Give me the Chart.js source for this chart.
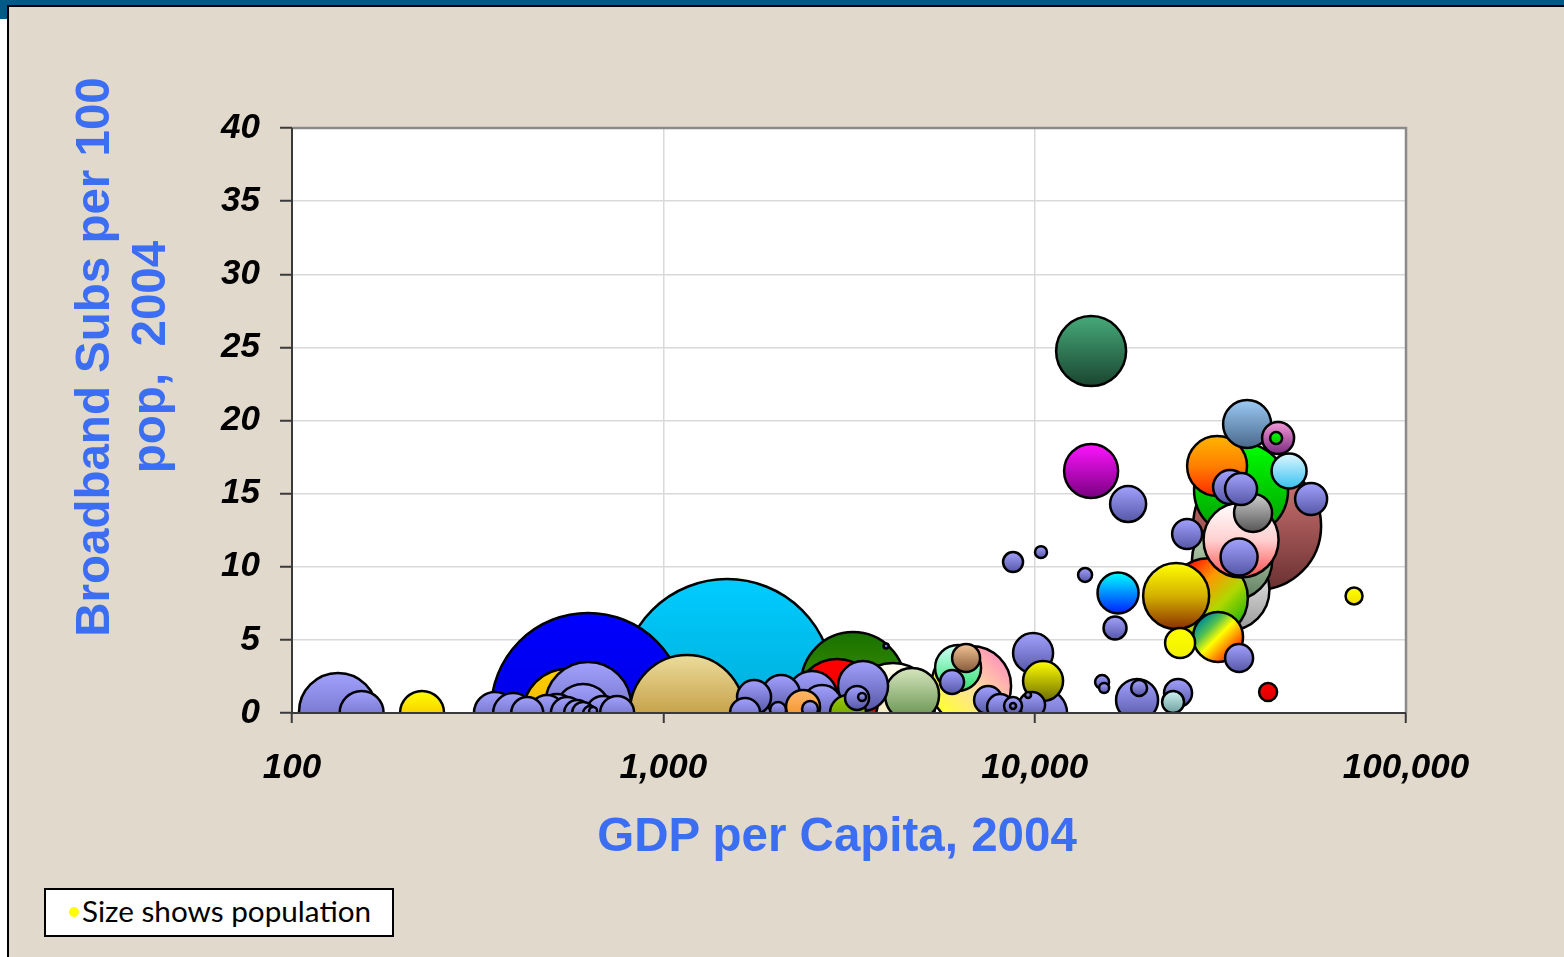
<!DOCTYPE html>
<html>
<head>
<meta charset="utf-8">
<title>Broadband vs GDP per capita, 2004</title>
<script src="https://cdn.jsdelivr.net/npm/chart.js@4.4.1/dist/chart.umd.min.js"></script>
<style>
html,body{margin:0;padding:0;background:#fff;}
#page{position:relative;width:1564px;height:957px;overflow:hidden;}
#topbar{position:absolute;left:0;top:0;width:1564px;height:6px;background:#005a88;}
#corner{position:absolute;left:0;top:0;width:8px;height:19px;background:#005a88;}
#panel{position:absolute;left:7px;top:5px;width:1557px;height:952px;background:#e1d9cb;
  border-left:2px solid #000;border-top:2px solid #000;box-sizing:border-box;}
canvas{position:absolute;left:0;top:0;}
.ttl{position:absolute;font-family:"Liberation Sans",Arial,sans-serif;font-weight:bold;color:#3b6ef2;white-space:pre;}
#xTitle{left:837px;top:811px;font-size:47.5px;line-height:47px;transform:translateX(-50%);}
#yTitle{left:-229px;top:301px;width:700px;height:112px;font-size:47.5px;line-height:56px;text-align:center;transform:rotate(-90deg);}
#note{position:absolute;left:44px;top:888px;width:350px;height:49px;border:2px solid #000;box-sizing:border-box;background:#fff;}
#noteDot{position:absolute;left:69px;top:907px;width:10px;height:10px;border-radius:50%;background:#ffff00;}
#noteText{position:absolute;left:82px;top:896px;font-family:Lato,"Open Sans",sans-serif;font-size:29.7px;line-height:29px;color:#000;white-space:nowrap;}
</style>
</head>
<body>
<div id="page">
  <div id="topbar"></div>
  <div id="corner"></div>
  <div id="panel"></div>
  <canvas id="chart" width="1564" height="957"></canvas>
  <div class="ttl" id="yTitle">Broadband Subs per 100
pop,  2004</div>
  <div class="ttl" id="xTitle">GDP per Capita, 2004</div>
  <div id="note"></div>
  <div id="noteDot"></div>
  <div id="noteText">Size shows population</div>
</div>
<script>
// values: GDP per capita (US$), broadband subs per 100 pop, population (millions)
const countries = [
  'Korea','Taiwan','Israel','Estonia','Barbados','Malta','Portugal','Slovenia','Spain','New Zealand',
  'Australia','Ireland','Qatar','Luxembourg','Netherlands','Denmark','Iceland','Canada','Switzerland','Finland',
  'Sweden','Belgium','Norway','Singapore','United Kingdom','Austria','France','Germany','Italy','United States',
  'Japan','Ethiopia','Burundi','Mali','India','China','Vietnam','Pakistan','Ghana','Uganda',
  'Nepal','Rwanda','Kenya','Cambodia','Laos','Mauritania','Solomon Is.','Kiribati','Zambia','Senegal',
  'Zimbabwe','Indonesia','Egypt','Sri Lanka','Morocco','Guatemala','Cape Verde','Fiji','Jordan','Ecuador',
  'Paraguay','Colombia','Jamaica','Grenada','Malaysia','Brazil','Thailand','Turkey','Dominica','Mexico',
  'Chile','Latvia','Lithuania','Croatia','Slovakia','Antigua','St Kitts','Poland','Seychelles','Czech Rep.',
  'Hungary','Bahrain','Cyprus','Greece','Macau','Hong Kong','Kuwait','Brunei','Philippines'
];
const gdpPerCapita = [
  14190,14190,17850,8745,10400,13670,16770,16460,24040,24640,
  31180,35520,42520,72460,37330,45240,44690,30990,48430,33600,
  35960,38740,55520,25740,35960,35520,34020,29310,33390,39720,
  35960,133,154,224,627,1485,550,627,608,352,
  394,430,486,517,550,586,608,635,647,688,
  751,1158,1755,1891,2075,2515,2037,2484,2378,2675,
  3143,3450,3324,3430,4675,3243,2937,4156,3980,6742,
  6219,6536,5991,7491,8069,8745,8745,9840,9598,9901,
  10535,10535,15190,15380,18870,19110,24330,23590,1660
];
const broadbandPer100 = [
  24.75,16.55,14.29,10.32,11.0,9.44,8.21,5.81,8.0,4.79,
  5.2,3.76,1.44,8.0,19.76,18.8,18.8,16.89,16.55,15.45,
  15.32,13.68,14.63,12.24,11.83,10.67,10.46,7.86,8.41,12.79,
  15.25,0.07,0.0,0.0,0.21,1.91,0.0,0.55,0.07,0.0,
  0.0,0.0,0.0,0.0,0.0,0.0,0.0,0.0,0.14,0.0,
  0.0,0.07,1.09,0.0,1.3,1.16,0.21,0.27,0.41,0.55,
  0.0,1.85,1.03,1.09,1.23,1.98,0.89,0.55,4.58,1.85,
  3.08,3.76,2.12,0.89,0.41,0.48,0.48,0.55,1.23,4.1,
  2.19,0.0,2.12,1.71,0.89,1.71,1.37,0.75,0.0
];
const populationM = [
  47.7,21.9,6.5,1.11,0.24,0.38,9.6,1.69,40.0,3.76,
  17.4,3.05,0.81,0.68,15.4,4.56,0.24,30.0,5.96,5.47,
  4.56,7.63,4.56,3.76,58.7,7.05,72.0,70.0,73.0,291.7,
  115.5,66.0,11.85,11.85,1015,1325,94.8,88.5,24.4,10.3,
  8.9,4.56,6.49,7.63,4.56,2.44,1.48,0.38,0.071,5.47,
  5.47,206,5.47,7.63,7.63,17.4,0.57,0.57,5.47,8.9,
  6.49,17.4,1.92,0.071,21.9,156.5,76.7,82.4,0.0174,71.2,
  13.5,3.05,1.92,3.05,2.44,0.81,0.03,2.44,0.03,8.9,
  8.9,15.4,0.38,0.139,10.3,0.57,3.05,1.48,3.76
];

const xTickValues = [100, 1000, 10000, 100000];
const xTickLabels = ['100', '1,000', '10,000', '100,000'];
const yTickValues = [0, 5, 10, 15, 20, 25, 30, 35, 40];

// highlighted countries: gradient stops top -> bottom, the rest are periwinkle
const PERIWINKLE = ['#a2a2ff', '#5656a6'];
const fillStops = {
  'Korea': ['#46aa7a', '#1a4530'],
  'Taiwan': ['#ff14ff', '#780080'],
  'Portugal': ['#00ffff', '#0020ff'],
  'Spain': ['#ffff00', '#d4b000', '#8a3000'],
  'New Zealand': ['#ffff00', '#f0f000'],
  'Australia': ['#008a9a', '#50c050', '#ffff00', '#ff9000', '#ff2000'],
  'Qatar': ['#ff0000', '#d80000'],
  'Luxembourg': ['#ffff00', '#f0e000'],
  'Netherlands': ['#9ccaf5', '#48688a'],
  'Denmark': ['#f49ad8', '#7a2a80'],
  'Iceland': ['#00ff00', '#00c000'],
  'Canada': ['#ffb400', '#ff8000', '#ff2800'],
  'Switzerland': ['#e0f8ff', '#38c0f0'],
  'Belgium': ['#cfcfcf', '#555555'],
  'United Kingdom': ['#ffffff', '#ffd0d0', '#ff5050'],
  'France': ['#d0e6c8', '#5e7e5e'],
  'Germany': ['#ff1000', '#ff9800', '#b0d800', '#30b800'],
  'Italy': ['#ffffff', '#9a9a9a'],
  'United States': ['#dc7c7c', '#6a3030'],
  'Japan': ['#00ff00', '#009800'],
  'Mali': ['#ffff00', '#f0a800'],
  'India': ['#0000ff', '#0000d0'],
  'China': ['#00ccff', '#009cc4'],
  'Vietnam': ['#ffd000', '#eaa000'],
  'Indonesia': ['#ebdc9c', '#c8a44c', '#e6d594'],
  'Jordan': ['#ffb86a', '#f08a20'],
  'Paraguay': ['#98cc00', '#5a8800'],
  'Malaysia': ['#d6e6be', '#5e8c46'],
  'Brazil': ['#187200', '#5aa200'],
  'Thailand': ['#ff0000', '#e00000'],
  'Turkey': ['#fffff2', '#efe2a4'],
  'Mexico': ['#ff98b8', '#ffe0a0', '#ffff30'],
  'Chile': ['#d0fff8', '#30e070'],
  'Latvia': ['#f4c494', '#855a3a'],
  'Hungary': ['#ffff00', '#6e6e00'],
  'Brunei': ['#cdf2f2', '#6f9f9f']
};
const gradientDir = { 'Australia': 'tl', 'Germany': 'tl', 'Mexico': 'tr' };

// bubble radius grows roughly with the cube root of population in this chart
const bubbleRadius = pop => 9.65 * Math.cbrt(pop);

// biggest first so the small ones sit on top
const order = countries.map((_, i) => i).sort((a, b) => populationM[b] - populationM[a]);
const points = order.map(i => ({
  x: gdpPerCapita[i], y: broadbandPer100[i], r: bubbleRadius(populationM[i]), name: countries[i]
}));

function bubbleFill(c){
  const chart = c.chart;
  if (c.type !== 'data' || !chart.chartArea) return PERIWINKLE[0];
  const p = c.raw;
  const cx = chart.scales.x.getPixelForValue(p.x);
  const cy = chart.scales.y.getPixelForValue(p.y);
  const r = p.r;
  const stops = fillStops[p.name] || PERIWINKLE;
  const dir = gradientDir[p.name];
  let g;
  if (dir === 'tl') g = chart.ctx.createLinearGradient(cx - r*.7, cy - r*.7, cx + r*.7, cy + r*.7);
  else if (dir === 'tr') g = chart.ctx.createLinearGradient(cx + r*.7, cy - r*.7, cx - r*.7, cy + r*.7);
  else g = chart.ctx.createLinearGradient(0, cy - r, 0, cy + r);
  stops.forEach((col, k) => g.addColorStop(k / (stops.length - 1), col));
  return g;
}

const plotFrame = {
  id: 'plotFrame',
  beforeDraw(chart){
    const {ctx, chartArea: a} = chart;
    ctx.save();
    ctx.fillStyle = '#fff';
    ctx.fillRect(a.left, a.top, a.width, a.height);
    ctx.restore();
  },
  afterDatasetsDraw(chart){
    const {ctx, chartArea: a} = chart;
    ctx.save();
    ctx.lineWidth = 2.5;
    ctx.strokeStyle = '#8a8a8a';
    ctx.beginPath();
    ctx.moveTo(a.left, a.top); ctx.lineTo(a.right, a.top); ctx.lineTo(a.right, a.bottom);
    ctx.stroke();
    ctx.lineWidth = 2;
    ctx.strokeStyle = '#3a3a3a';
    ctx.beginPath();
    ctx.moveTo(a.left, a.top); ctx.lineTo(a.left, a.bottom); ctx.lineTo(a.right, a.bottom);
    ctx.stroke();
    ctx.restore();
  }
};

const tickFont = {family: '"Liberation Sans", Arial, sans-serif', size: 35, weight: 'bold', style: 'italic'};

new Chart(document.getElementById('chart'), {
  type: 'bubble',
  data: {
    datasets: [{
      label: 'Countries',
      data: points,
      backgroundColor: bubbleFill,
      borderColor: '#000',
      borderWidth: 2.5,
      clip: 0
    }]
  },
  options: {
    responsive: false,
    animation: false,
    events: [],
    devicePixelRatio: 1,
    layout: {padding: {top: 128, right: 158, bottom: 0, left: 0}},
    plugins: {legend: {display: false}, tooltip: {enabled: false}},
    scales: {
      x: {
        type: 'logarithmic', min: 100, max: 100000,
        afterBuildTicks: s => { s.ticks = xTickValues.map(v => ({value: v})); },
        afterFit: s => { s.height = 244; },
        ticks: {callback: (v, i) => xTickLabels[i], font: tickFont, color: '#000', padding: 24, maxRotation: 0, autoSkip: false},
        grid: {color: '#d9d9d9', lineWidth: 1.5, tickColor: '#3a3a3a', tickLength: 10, tickWidth: 2},
        border: {display: false}
      },
      y: {
        min: 0, max: 40,
        afterBuildTicks: s => { s.ticks = yTickValues.map(v => ({value: v})); },
        afterFit: s => { s.width = 292; },
        ticks: {font: tickFont, color: '#000', padding: 20},
        grid: {color: '#d9d9d9', lineWidth: 1.5, tickColor: '#3a3a3a', tickLength: 12, tickWidth: 2},
        border: {display: false}
      }
    }
  },
  plugins: [plotFrame]
});
</script>
</body>
</html>
